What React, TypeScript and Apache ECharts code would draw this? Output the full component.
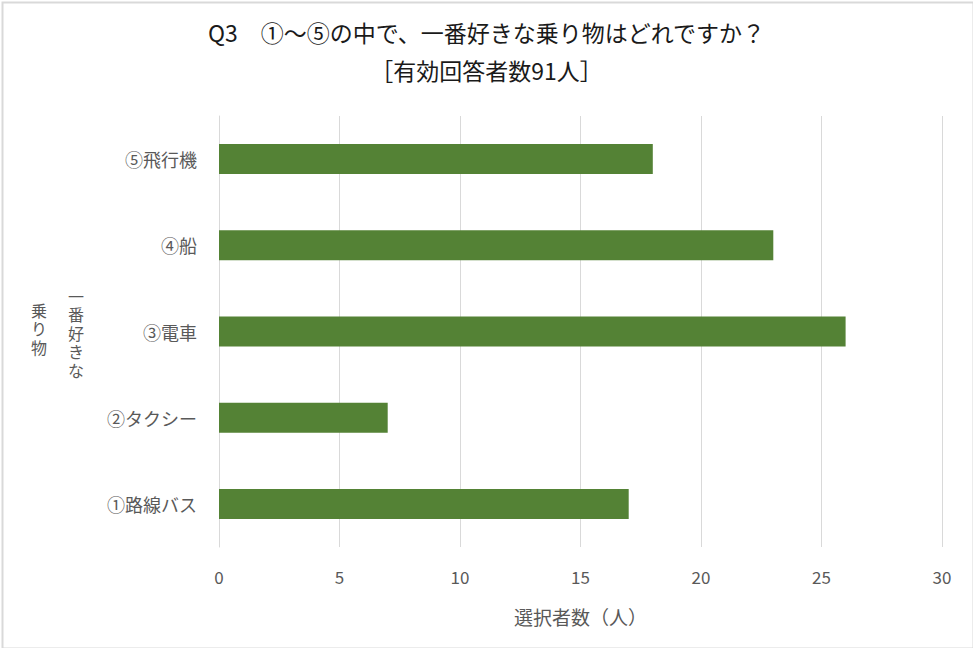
import React, { useEffect, useRef } from "react";
import * as echarts from "echarts";

const categories = ["①路線バス", "②タクシー", "③電車", "④船", "⑤飛行機"];
const values = [17, 7, 26, 23, 18];
const titleText = "Q3　①～⑤の中で、一番好きな乗り物はどれですか？";
const subtitleText = "［有効回答者数91人］";
const xAxisName = "選択者数（人）";
const yNameCol1 = ["一", "番", "好", "き", "な"];
const yNameCol2 = ["乗", "り", "物"];

const FONT = "'Noto Sans CJK JP', 'Noto Sans', sans-serif";
const VFONT = "'Liberation Sans', 'Noto Sans CJK JP', sans-serif";

export default function App() {
  const ref = useRef<HTMLDivElement>(null);
  useEffect(() => {
    document.body.style.margin = "0";
    const chart = echarts.init(ref.current!, null, { renderer: "svg" });
    chart.setOption({
      animation: false,
      backgroundColor: "#ffffff",
      textStyle: { fontFamily: FONT },
      title: [
        {
          text: titleText,
          left: "center",
          top: 14,
          textStyle: { fontSize: 23, fontWeight: "normal", color: "#1a1a1a", fontFamily: FONT, lineHeight: 25 },
        },
        {
          text: subtitleText,
          left: "center",
          top: 52,
          textStyle: { fontSize: 23, fontWeight: "normal", color: "#1a1a1a", fontFamily: FONT, lineHeight: 25 },
        },
      ],
      grid: { left: 219, right: 31, top: 116, bottom: 101, containLabel: false },
      xAxis: {
        type: "value",
        min: 0,
        max: 30,
        interval: 5,
        name: xAxisName,
        nameLocation: "middle",
        nameGap: 60,
        nameTextStyle: { fontSize: 19, color: "#595959", fontFamily: FONT },
        axisLine: { show: false },
        axisTick: { show: false },
        axisLabel: { fontSize: 17, color: "#595959", margin: 21, fontFamily: FONT },
        splitLine: { show: true, lineStyle: { color: "#d9d9d9", width: 1 } },
      },
      yAxis: {
        type: "category",
        data: categories,
        axisLine: { show: true, lineStyle: { color: "#d9d9d9" } },
        axisTick: { show: false },
        axisLabel: { fontSize: 18, color: "#595959", margin: 22, fontFamily: FONT },
      },
      series: [
        {
          type: "bar",
          data: values,
          barWidth: 30,
          itemStyle: { color: "#548235" },
        },
      ],
      graphic: [
        {
          type: "rect",
          left: 0,
          top: 0,
          shape: { width: 971, height: 646 },
          style: { fill: "none", stroke: "#d9d9d9", lineWidth: 2 },
          silent: true,
        },
        {
          type: "text",
          x: 76,
          y: 288,
          style: {
            text: yNameCol1.join("\n"),
            fontSize: 16,
            lineHeight: 18.5,
            fill: "#595959",
            fontFamily: VFONT,
            align: "center",
            verticalAlign: "top",
          },
        },
        {
          type: "text",
          x: 39,
          y: 302,
          style: {
            text: yNameCol2.join("\n"),
            fontSize: 16,
            lineHeight: 18.5,
            fill: "#595959",
            fontFamily: VFONT,
            align: "center",
            verticalAlign: "top",
          },
        },
      ],
    });
    return () => chart.dispose();
  }, []);
  return <div ref={ref} style={{ width: 973, height: 648 }} />;
}
